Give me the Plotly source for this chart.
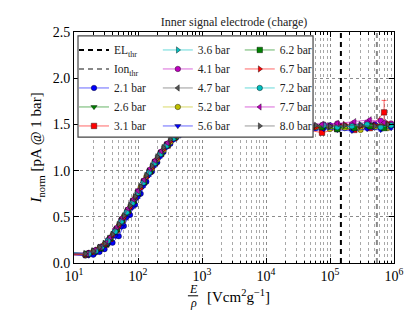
import plotly.graph_objects as go

# ---------------- data ----------------
GRID_A = [5, 15, 20, 25, 30, 40, 50, 60, 75, 90, 110, 135, 165, 200, 250, 320, 400, 520, 700,
          1000, 1500, 2500, 4000, 7000, 12000, 20000, 35000, 60000, 100000, 170000, 300000, 500000, 800000]
GRID_B = [5, 17, 22, 27, 34, 44, 55, 67, 82, 100, 122, 150, 182, 225, 280, 360, 460, 600, 850,
          1250, 2000, 3200, 5500, 9000, 16000, 27000, 45000, 80000, 130000, 220000, 380000, 620000, 900000]
GRID_C = [5, 16, 21, 26, 32, 37, 47, 57, 70, 85, 100, 125, 155, 185, 230, 290, 370, 480, 620,
          850, 1200, 1900, 3200, 5500, 9500, 15000, 26000, 45000, 75000, 130000, 240000, 420000, 700000]

I_2P1 = [0.11, 0.08, 0.09, 0.12, 0.15, 0.22, 0.29, 0.40, 0.52, 0.63, 0.75, 0.88, 0.99, 1.09, 1.20, 1.29, 1.36, 1.41, 1.43,
         1.44, 1.45, 1.46, 1.45, 1.47, 1.46, 1.48, 1.47, 1.46, 1.49, 1.47, 1.48, 1.50, 1.47]
I_2P6 = [0.11, 0.09, 0.12, 0.16, 0.22, 0.32, 0.43, 0.53, 0.64, 0.75, 0.86, 0.97, 1.07, 1.17, 1.27, 1.35, 1.40, 1.43, 1.44,
         1.45, 1.46, 1.45, 1.47, 1.46, 1.47, 1.46, 1.48, 1.47, 1.46, 1.48, 1.47, 1.49, 1.48]
I_3P1 = [0.08, 0.09, 0.12, 0.16, 0.20, 0.26, 0.36, 0.46, 0.56, 0.67, 0.76, 0.88, 0.99, 1.08, 1.18, 1.27, 1.35, 1.40, 1.42,
         1.44, 1.45, 1.43, 1.46, 1.44, 1.45, 1.43, 1.46, 1.44, 1.41, 1.45, 1.44, 1.46, 1.63]
I_3P6 = [0.12, 0.10, 0.13, 0.17, 0.21, 0.31, 0.41, 0.50, 0.61, 0.71, 0.82, 0.94, 1.04, 1.14, 1.24, 1.33, 1.39, 1.43, 1.45,
         1.46, 1.45, 1.47, 1.48, 1.46, 1.48, 1.47, 1.49, 1.48, 1.47, 1.49, 1.50, 1.48, 1.49]
I_4P1 = [0.12, 0.11, 0.14, 0.18, 0.25, 0.36, 0.47, 0.56, 0.67, 0.78, 0.89, 1.00, 1.10, 1.20, 1.29, 1.37, 1.42, 1.45, 1.47,
         1.48, 1.49, 1.48, 1.50, 1.49, 1.50, 1.51, 1.49, 1.50, 1.51, 1.50, 1.52, 1.54, 1.51]
I_4P7 = [0.11, 0.10, 0.13, 0.17, 0.21, 0.28, 0.38, 0.48, 0.58, 0.68, 0.77, 0.89, 1.01, 1.10, 1.20, 1.29, 1.37, 1.41, 1.44,
         1.45, 1.46, 1.47, 1.46, 1.48, 1.47, 1.46, 1.48, 1.47, 1.49, 1.48, 1.47, 1.49, 1.48]
I_5P2 = [0.09, 0.09, 0.12, 0.16, 0.20, 0.30, 0.40, 0.50, 0.60, 0.70, 0.82, 0.93, 1.02, 1.12, 1.22, 1.31, 1.37, 1.41, 1.43,
         1.44, 1.45, 1.44, 1.46, 1.45, 1.46, 1.44, 1.45, 1.47, 1.45, 1.46, 1.44, 1.47, 1.46]
I_5P6 = [0.10, 0.08, 0.11, 0.15, 0.20, 0.29, 0.39, 0.49, 0.60, 0.71, 0.83, 0.95, 1.05, 1.15, 1.25, 1.33, 1.38, 1.41, 1.43,
         1.43, 1.44, 1.42, 1.44, 1.43, 1.45, 1.44, 1.42, 1.45, 1.44, 1.43, 1.45, 1.44, 1.46]
I_6P2 = [0.12, 0.10, 0.13, 0.16, 0.21, 0.27, 0.37, 0.47, 0.57, 0.67, 0.76, 0.88, 1.00, 1.09, 1.19, 1.28, 1.36, 1.40, 1.43,
         1.44, 1.45, 1.44, 1.46, 1.45, 1.46, 1.47, 1.45, 1.46, 1.47, 1.45, 1.46, 1.48, 1.46]
I_6P7 = [0.10, 0.09, 0.12, 0.16, 0.20, 0.30, 0.40, 0.49, 0.60, 0.71, 0.81, 0.93, 1.03, 1.13, 1.23, 1.32, 1.38, 1.42, 1.44,
         1.45, 1.47, 1.46, 1.45, 1.48, 1.46, 1.47, 1.49, 1.47, 1.48, 1.50, 1.48, 1.49, 1.51]
I_7P2 = [0.13, 0.10, 0.13, 0.17, 0.24, 0.34, 0.45, 0.55, 0.65, 0.76, 0.87, 0.98, 1.08, 1.18, 1.27, 1.35, 1.40, 1.43, 1.45,
         1.46, 1.47, 1.46, 1.47, 1.48, 1.46, 1.48, 1.47, 1.49, 1.47, 1.48, 1.50, 1.47, 1.49]
I_7P7 = [0.11, 0.10, 0.14, 0.17, 0.22, 0.28, 0.39, 0.49, 0.59, 0.69, 0.78, 0.90, 1.02, 1.11, 1.21, 1.30, 1.38, 1.42, 1.45,
         1.47, 1.48, 1.49, 1.48, 1.50, 1.49, 1.51, 1.50, 1.52, 1.50, 1.51, 1.53, 1.55, 1.52]
I_8P0 = [0.10, 0.10, 0.13, 0.17, 0.21, 0.31, 0.42, 0.51, 0.62, 0.72, 0.83, 0.95, 1.05, 1.15, 1.25, 1.34, 1.40, 1.43, 1.45,
         1.46, 1.46, 1.47, 1.46, 1.47, 1.48, 1.47, 1.48, 1.49, 1.48, 1.49, 1.49, 1.48, 1.50]

# typical uncertainty per series and the one large error of the last 3.1 bar point
ERR_TYPICAL = 0.012
ERR_3P1_LAST = 0.13

PRESSURE_LABELS = ["2.1 bar", "2.6 bar", "3.1 bar", "3.6 bar", "4.1 bar", "4.7 bar", "5.2 bar",
                   "5.6 bar", "6.2 bar", "6.7 bar", "7.2 bar", "7.7 bar", "8.0 bar"]
SERIES_Y = [I_2P1, I_2P6, I_3P1, I_3P6, I_4P1, I_4P7, I_5P2, I_5P6, I_6P2, I_6P7, I_7P2, I_7P7, I_8P0]
SERIES_X = [GRID_A, GRID_B, GRID_C, GRID_A, GRID_B, GRID_C, GRID_A, GRID_B, GRID_C, GRID_A, GRID_B, GRID_C, GRID_A]

EL_THR = 1.48e5
ION_THR = 5.4e5
Y_RANGE = [0, 2.5]
X_TICKS = [10, 100, 1000, 10000, 100000, 1000000]
X_TICKTEXT = ["10<sup>1</sup>", "10<sup>2</sup>", "10<sup>3</sup>", "10<sup>4</sup>", "10<sup>5</sup>", "10<sup>6</sup>"]

# ---------------- style ----------------
COLORS = ["#0000ff", "#008000", "#ff0000", "#00bfbf", "#bf00bf", "#555555", "#bfbf00",
          "#0000ff", "#008000", "#ff0000", "#00bfbf", "#bf00bf", "#555555"]
SYMBOLS = ["circle", "triangle-down", "square", "triangle-right", "circle", "triangle-left", "circle",
           "triangle-down", "square", "triangle-right", "circle", "triangle-left", "triangle-right"]
LEGENDS = ["legend"] * 3 + ["legend2"] * 5 + ["legend3"] * 5
FONT = "'Liberation Serif', 'Times New Roman', Times, 'DejaVu Serif', serif"


def rgba(hexcol, a):
    h = hexcol.lstrip("#")
    return "rgba(%d,%d,%d,%.2f)" % (int(h[0:2], 16), int(h[2:4], 16), int(h[4:6], 16), a)


fig = go.Figure()

fig.add_trace(go.Scatter(x=[EL_THR, EL_THR], y=Y_RANGE, mode="lines", name="EL<sub>thr</sub>",
                         line=dict(color="black", width=2, dash="5px,4px"), legend="legend"))
fig.add_trace(go.Scatter(x=[ION_THR, ION_THR], y=Y_RANGE, mode="lines", name="Ion<sub>thr</sub>",
                         line=dict(color="#888888", width=2, dash="5px,4px"), legend="legend"))

for i, (lab, xs, ys) in enumerate(zip(PRESSURE_LABELS, SERIES_X, SERIES_Y)):
    errs = [ERR_TYPICAL] * len(ys)
    if lab == "3.1 bar":
        errs[-1] = ERR_3P1_LAST
    fig.add_trace(go.Scatter(
        x=xs, y=ys, mode="lines+markers", name=lab, legend=LEGENDS[i],
        line=dict(color=rgba(COLORS[i], 0.6), width=1),
        marker=dict(color=COLORS[i], symbol=SYMBOLS[i], size=5.5,
                    line=dict(color="black", width=0.4)),
        error_y=dict(type="data", array=errs, color=rgba(COLORS[i], 0.6), thickness=1, width=2.5),
    ))

axis_common = dict(showline=True, linecolor="black", linewidth=1, mirror="allticks",
                   ticks="inside", ticklen=5, tickcolor="black", automargin=False,
                   tickfont=dict(family=FONT, size=14, color="black"),
                   showgrid=True, gridcolor="#8c8c8c", griddash="dot", gridwidth=1, zeroline=False)

fig.update_xaxes(type="log", range=[1, 6], tickvals=X_TICKS, ticktext=X_TICKTEXT,
                 minor=dict(dtick="D1", ticks="inside", ticklen=2.5, tickcolor="black",
                            showgrid=True, gridcolor="#a8a8a8", griddash="dot", gridwidth=1),
                 **axis_common)
fig.update_yaxes(range=Y_RANGE, dtick=0.5, tickformat=".1f", **axis_common)

legend_common = dict(bgcolor="rgba(0,0,0,0)", borderwidth=0, yanchor="top", y=0.985, xanchor="left",
                     font=dict(family=FONT, size=11.5, color="#222"), tracegroupgap=0, itemwidth=30)

# the page body adds an 8 px offset, so the figure is 8 px smaller than the window
fig.update_layout(
    width=406, height=302,
    margin=dict(l=66, r=20, t=24, b=47),
    paper_bgcolor="white", plot_bgcolor="white",
    font=dict(family=FONT, color="black"),
    title=dict(text="Inner signal electrode (charge)", x=0.5, xref="paper", y=1 - 14 / 302,
               yanchor="middle", xanchor="center", font=dict(family=FONT, size=12, color="#222")),
    legend=dict(x=0.0, **legend_common),
    legend2=dict(x=0.262, **legend_common),
    legend3=dict(x=0.518, **legend_common),
    shapes=[
        dict(type="rect", xref="paper", yref="paper", x0=0.0125, x1=0.747, y0=0.545, y1=0.983,
             fillcolor="white", line=dict(color="#444", width=1.2), layer="above"),
        dict(type="line", xref="paper", yref="paper", x0=0.356, x1=0.388, y0=-0.142, y1=-0.142,
             line=dict(color="black", width=1)),
    ],
    annotations=[
        dict(text="<i>I</i><sub>norm</sub> [pA @ 1 bar]", xref="paper", yref="paper", x=-0.116, y=0.5,
             textangle=-90, showarrow=False, xanchor="center", yanchor="middle",
             font=dict(family=FONT, size=15, color="black")),
        dict(text="<i>E</i>", xref="paper", yref="paper", x=0.372, y=-0.111, showarrow=False,
             xanchor="center", yanchor="middle", font=dict(family=FONT, size=12, color="black")),
        dict(text="<i>ρ</i>", xref="paper", yref="paper", x=0.372, y=-0.174, showarrow=False,
             xanchor="center", yanchor="middle", font=dict(family=FONT, size=12, color="black")),
        dict(text="[Vcm<sup>2</sup>g<sup>−1</sup>]", xref="paper", yref="paper", x=0.409, y=-0.142,
             showarrow=False, xanchor="left", yanchor="middle",
             font=dict(family=FONT, size=15, color="black")),
    ],
)

fig.write_html("out.html")
